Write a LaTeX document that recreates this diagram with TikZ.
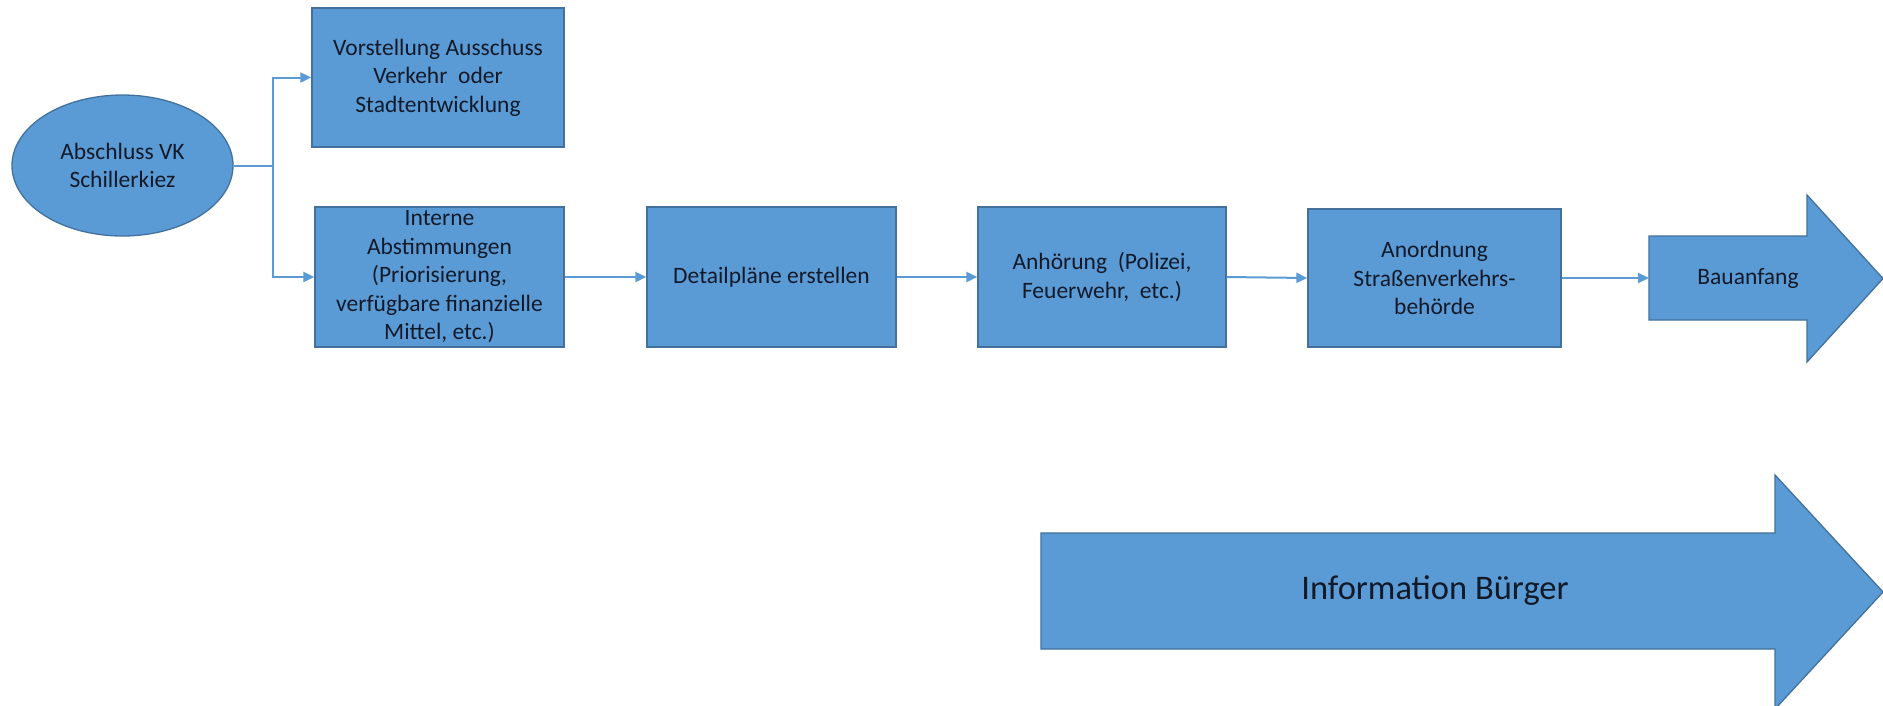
\documentclass[tikz,border=0pt]{standalone}
\usepackage{fontspec}
\setmainfont{Carlito}
\usetikzlibrary{arrows.meta,shapes.geometric}
\definecolor{boxfill}{HTML}{5B9BD5}
\definecolor{boxline}{HTML}{41719C}
\definecolor{txt}{HTML}{121A2A}
\begin{document}
\begin{tikzpicture}[x=1pt,y=-1pt,
  every node/.style={text=txt,font=\fontsize{23.5}{28.5}\selectfont,align=center,inner sep=0pt},
  procbox/.style={draw=boxline,fill=boxfill,line width=1.3pt,rectangle},
  startell/.style={draw=boxline,fill=boxfill,line width=1.3pt,ellipse},
  bigarrow/.style={draw=boxline,fill=boxfill,line width=1.3pt,line join=miter},
  conn/.style={draw=boxfill,line width=2pt,-{Triangle[length=11pt,width=10pt]}}]
\useasboundingbox (0,0) rectangle (1883,705);
\fill[white] (0,0) rectangle (1883,705);

\node[startell,minimum width=221pt,minimum height=141pt] (abs) at (122.5,165.5) {Abschluss VK\\Schillerkiez};
\node[procbox,minimum width=252pt,minimum height=139pt] (vor) at (438,77.5) {Vorstellung Ausschuss\\Verkehr\ \ oder\\Stadtentwicklung};
\node[procbox,minimum width=249pt,minimum height=140pt] (int) at (439.5,277) {Interne\\Abstimmungen\\(Priorisierung,\\verfügbare finanzielle\\Mittel, etc.)};
\node[procbox,minimum width=249pt,minimum height=140pt] (det) at (771.5,277) {Detailpläne erstellen};
\node[procbox,minimum width=248pt,minimum height=140pt] (anh) at (1102,277) {Anhörung\ \ (Polizei,\\Feuerwehr,\ \ etc.)};
\node[procbox,minimum width=253pt,minimum height=138pt] (ano) at (1434.5,278) {Anordnung\\Straßenverkehrs-\\behörde};

\draw[bigarrow] (1649,236) -- (1807,236) -- (1807,195) -- (1883,278.5) -- (1807,362) -- (1807,320) -- (1649,320) -- cycle;
\node (bau) at (1748,278) {Bauanfang};
\coordinate (bauin) at (1649,278);

\draw[bigarrow] (1041,533) -- (1775,533) -- (1775,475) -- (1883,592) -- (1775,709) -- (1775,649) -- (1041,649) -- cycle;
\node[font=\fontsize{34.5}{40}\selectfont] (info) at (1435,591) {Information Bürger};

\coordinate (fork) at (273,165.5);
\draw[conn] (abs.east) -- (fork) |- (vor.west);
\draw[conn] (fork) |- (int.west);
\draw[conn] (int.east) -- (det.west);
\draw[conn] (det.east) -- (anh.west);
\draw[conn] (anh.east) -- (ano.west);
\draw[conn] (ano.east) -- (bauin);
\end{tikzpicture}
\end{document}
